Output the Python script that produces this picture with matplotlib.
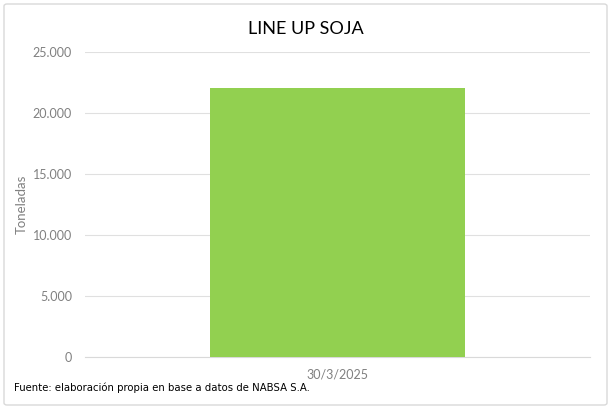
import matplotlib.pyplot as plt
from matplotlib.patches import FancyBboxPatch
from matplotlib.ticker import FuncFormatter

categorias = ['30/3/2025']
toneladas = [22050]

fig = plt.figure(figsize=(6.12, 4.13), dpi=100)
ax = fig.add_axes([85/612, 56/413, 505/612, 305/413])

# borde del grafico
borde = FancyBboxPatch((4/612, 8/413), 603/612, 401/413, boxstyle="round,pad=0,rounding_size=0.005",
                       transform=fig.transFigure, facecolor='none', edgecolor='#D9D9D9', linewidth=1)
fig.patches.append(borde)

ax.bar(categorias, toneladas, width=0.503, color='#92D050', zorder=3)

ax.set_ylim(0, 25000)
ax.set_xlim(-0.5, 0.5)
ax.set_yticks(range(0, 25001, 5000))
ax.yaxis.set_major_formatter(FuncFormatter(lambda v, p: f'{int(v):,}'.replace(',', '.')))
ax.grid(axis='y', color='#E0E0E0', linewidth=0.8, zorder=0)
for s in ax.spines.values():
    s.set_visible(False)
ax.spines['bottom'].set_visible(True)
ax.spines['bottom'].set_color('#D9D9D9')
ax.spines['bottom'].set_linewidth(0.8)
ax.tick_params(axis='both', length=0, colors='#808080', labelsize=9)
ax.tick_params(axis='y', pad=9.4)
ax.tick_params(axis='x', pad=8)
for t in ax.get_xticklabels() + ax.get_yticklabels():
    t.set_family('Lato')

ax.set_ylabel('Toneladas', color='#808080', fontsize=9.5, family='Lato')
ax.yaxis.set_label_coords(-57/505, 0.5)

fig.text(0.5, 384/413, 'LINE UP SOJA', ha='center', va='center', fontsize=13,
         family='Lato', color='black')
fig.text(14/612, 25/413, 'Fuente: elaboración propia en base a datos de NABSA S.A.',
         ha='left', va='center', fontsize=7.3, color='black')

fig.savefig('out.png', dpi=100)
